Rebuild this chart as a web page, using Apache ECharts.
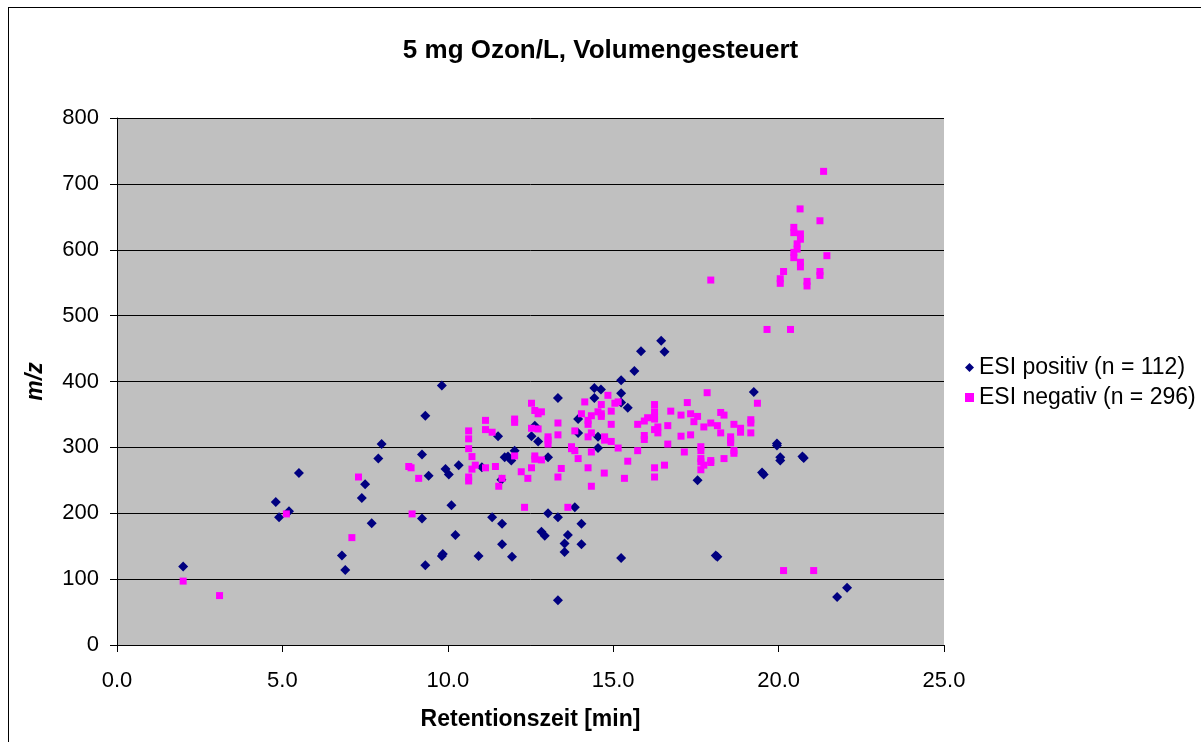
<!DOCTYPE html>
<html>
<head>
<meta charset="utf-8">
<script src="https://cdn.jsdelivr.net/npm/echarts@6/dist/echarts.min.js"></script>
<style>
html,body{margin:0;padding:0;background:#fff;}
#c{width:1201px;height:742px;}
</style>
</head>
<body>
<div id="c"></div>
<script>
var titleText = '5 mg Ozon/L, Volumengesteuert';
var xName = 'Retentionszeit [min]';
var yName = 'm/z';
var seriesNames = ['ESI positiv (n = 112)', 'ESI negativ (n = 296)'];
var xTicks = [0, 5, 10, 15, 20, 25];
var yTicks = [0, 100, 200, 300, 400, 500, 600, 700, 800];

var esiPositiv = [
 [2.0,119],[4.8,217],[4.9,194],[5.2,203],[5.5,261],[6.8,136],[6.9,114],[7.4,223],[7.5,244],[7.7,185],[7.9,283],[8.0,305],
 [9.22,289],[9.22,192],[9.32,348],[9.32,121],[9.42,257],[9.82,394],[9.82,135],[9.85,138],[9.93,267],[10.03,259],[10.11,212],
 [10.23,167],[10.33,273],[10.93,135],[11.03,270],[11.34,194],[11.52,317],[11.62,251],[11.64,184],[11.64,153],[11.72,285],
 [11.82,286],[11.92,280],[11.94,134],[12.02,295],[12.53,317],[12.63,333],[12.73,309],[12.83,172],[12.93,166],[13.03,285],
 [13.03,200],[13.33,375],[13.33,194],[13.33,68],[13.53,154],[13.53,141],[13.63,167],[13.84,209],[13.94,343],[13.94,322],
 [14.04,184],[14.04,153],[14.43,390],[14.43,375],[14.54,316],[14.54,299],[14.63,388],[15.24,402],[15.24,382],[15.24,368],
 [15.24,132],[15.44,360],[15.64,416],[15.84,446],[16.45,462],[16.55,445],[17.55,250],[18.15,134],[18.1,136],[19.25,384],
 [19.55,259],[19.5,262],[19.95,306],[19.95,303],[20.05,285],[20.05,280],[20.76,284],[20.72,286],[21.77,73],[22.07,87]
];

var esiNegativ = [
 [2.0,97],[3.1,75],[5.12,199],[7.1,163],[7.3,255],[8.82,271],[8.89,269],[8.92,199],[9.12,253],
 [10.63,325],[10.63,313],[10.63,298],[10.73,286],[10.83,273],[10.73,267],[10.63,255],[10.63,249],[11.14,341],[11.14,327],
 [11.34,323],[11.14,269],[11.44,271],[11.64,253],[11.54,241],[12.02,343],[12.02,338],[12.02,287],[12.22,263],[12.42,253],
 [12.32,209],[12.53,367],[12.63,356],[12.73,351],[12.83,354],[12.53,329],[12.73,328],[12.63,287],[12.63,282],[12.83,281],
 [12.53,269],[13.03,316],[13.03,311],[13.03,305],[13.33,337],[13.33,319],[13.43,268],[13.33,255],[13.63,209],[13.74,301],
 [13.74,298],[13.84,295],[13.84,325],[13.94,283],[14.04,351],[14.14,369],[14.24,341],[14.24,335],[14.24,316],[14.34,348],
 [14.34,322],[14.34,293],[14.24,269],[14.34,241],[14.54,354],[14.64,365],[14.64,351],[14.64,347],[14.84,379],[14.94,355],
 [14.74,316],[14.74,311],[14.94,335],[14.94,309],[15.05,367],[15.15,369],[15.15,299],[14.73,261],[15.34,253],[15.44,279],
 [15.74,335],[15.74,295],[15.94,340],[16.04,345],[15.94,318],[15.94,312],
 [16.25,365],[16.25,354],[16.25,347],[16.25,343],[16.25,327],[16.35,331],[16.35,322],[16.25,269],[16.25,255],[16.55,273],
 [16.65,333],[16.65,305],[16.74,355],[17.05,349],[17.05,317],[17.15,293],[17.24,368],[17.34,351],[17.34,319],[17.44,339],
 [17.55,347],[17.65,301],[17.65,295],[17.65,283],[17.65,278],[17.65,266],[17.74,273],[17.74,331],[17.84,383],[17.95,337],
 [17.95,280],[17.95,277],[18.15,333],[18.25,353],[18.35,349],[18.25,322],[18.35,283],[18.55,316],[18.55,311],[18.55,307],
 [18.65,335],[18.65,295],[18.65,291],[18.85,329],[18.85,323],[19.16,342],[19.16,337],[19.16,322],[19.36,367],[17.95,554],
 [19.65,479],[20.36,479],[20.15,113],[21.06,113],
 [21.36,719],[20.65,662],[21.25,644],[20.46,634],[20.46,626],[20.66,624],[20.66,616],[20.56,609],[20.56,601],[20.46,596],
 [20.46,588],[21.46,591],[20.66,581],[20.66,574],[21.25,567],[21.25,561],[20.15,567],[20.05,556],[20.05,549],[20.86,552],
 [20.86,545]
];

var chart = echarts.init(document.getElementById('c'), null, {renderer:'canvas'});
var font = 'Liberation Sans, Arial, sans-serif';
chart.setOption({
  backgroundColor: '#ffffff',
  animation: false,
  textStyle: {fontFamily: font},
  title: {
    text: titleText, left: 'center', top: 33,
    textStyle: {fontSize: 26, fontWeight: 'bold', color: '#000', fontFamily: font}
  },
  graphic: [
    {type: 'rect', z: 100, silent: true, x: 8, y: 7,
     shape: {x: 0, y: 0, width: 1193, height: 1},
     style: {fill: '#000', stroke: null}},
    {type: 'rect', z: 100, silent: true, x: 8, y: 7,
     shape: {x: 0, y: 0, width: 1, height: 735},
     style: {fill: '#000', stroke: null}}
  ],
  legend: {
    orient: 'vertical', left: 960, top: 351, itemGap: 7,
    itemWidth: 9, itemHeight: 9,
    textStyle: {fontSize: 23, color: '#000', fontFamily: font},
    data: [
      {name: seriesNames[0], icon: 'diamond'},
      {name: seriesNames[1], icon: 'rect'}
    ]
  },
  grid: {
    left: 117, top: 118, width: 827, height: 527,
    show: true, backgroundColor: '#C0C0C0', borderWidth: 0
  },
  xAxis: {
    type: 'value', min: xTicks[0], max: xTicks[xTicks.length-1], interval: 5,
    name: xName, nameLocation: 'middle', nameGap: 63,
    nameTextStyle: {fontSize: 23, fontWeight: 'bold', color: '#000', fontFamily: font},
    axisLine: {show: true, lineStyle: {color: '#000', width: 1}},
    axisTick: {show: true, length: 7, lineStyle: {color: '#000'}},
    axisLabel: {fontSize: 22, color: '#000', margin: 25, fontFamily: font,
      formatter: function(v){ return v.toFixed(1); }},
    splitLine: {show: false}
  },
  yAxis: {
    type: 'value', min: yTicks[0], max: yTicks[yTicks.length-1], interval: 100,
    name: yName, nameLocation: 'middle', nameGap: 70, nameRotate: 90,
    nameTextStyle: {fontSize: 23, fontWeight: 'bold', fontStyle: 'italic', color: '#000', fontFamily: font},
    axisLine: {show: true, lineStyle: {color: '#000', width: 1}},
    axisTick: {show: true, length: 7, lineStyle: {color: '#000'}},
    axisLabel: {fontSize: 22, color: '#000', margin: 18, fontFamily: font},
    splitLine: {show: true, lineStyle: {color: '#000', width: 1}}
  },
  series: [
    {
      name: seriesNames[0], type: 'scatter', data: esiPositiv,
      symbol: 'diamond', symbolSize: 10,
      itemStyle: {color: '#000080', opacity: 1}
    },
    {
      name: seriesNames[1], type: 'scatter', data: esiNegativ,
      symbol: 'rect', symbolSize: 7,
      itemStyle: {color: '#FF00FF', opacity: 1}
    }
  ]
});
</script>
</body>
</html>
